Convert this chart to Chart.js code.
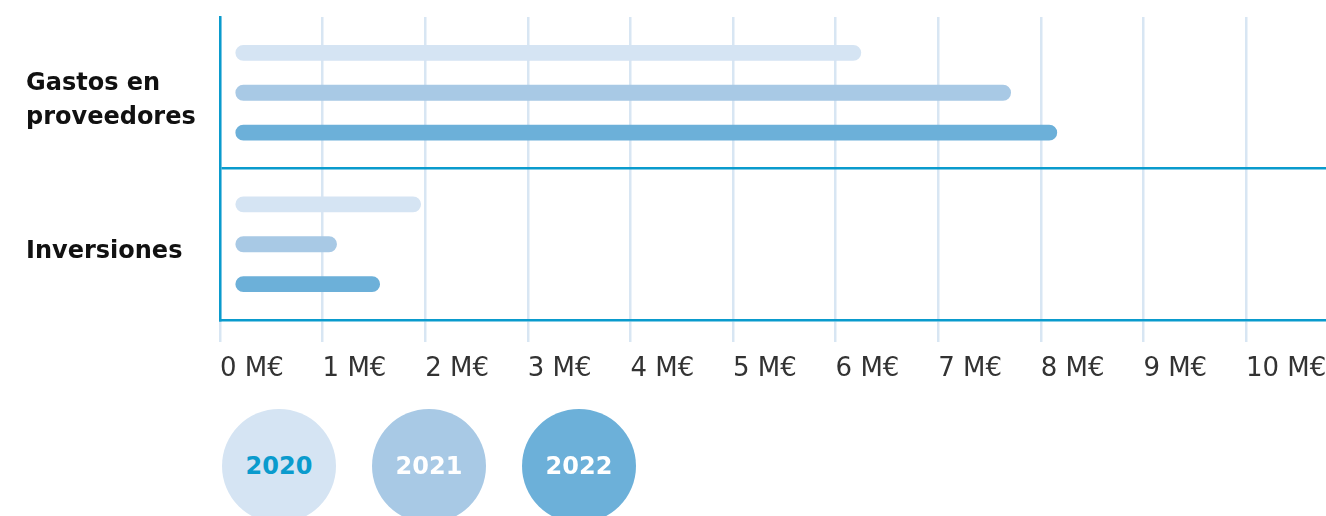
<!DOCTYPE html>
<html>
<head>
<meta charset="utf-8">
<script src="https://cdn.jsdelivr.net/npm/chart.js@4"></script>
<style>
  html, body { margin: 0; padding: 0; background: #fff; }
  #wrap { position: relative; width: 1326px; height: 516px; overflow: hidden; }
  .dot {
    position: absolute; width: 114px; height: 114px; border-radius: 50%;
    display: flex; align-items: center; justify-content: center;
    font-family: "DejaVu Sans"; font-weight: bold; font-size: 24px;
  }
</style>
</head>
<body>
<div id="wrap">
  <canvas id="chart" width="1326" height="516"></canvas>
  <div id="legend"></div>
</div>
<script>
// Data
const categories = [['Gastos en', 'proveedores'], 'Inversiones'];
const years = ['2020', '2021', '2022'];
const values2020 = [6.25, 1.96];
const values2021 = [7.71, 1.14];
const values2022 = [8.16, 1.56];
const tickValues = [0, 1, 2, 3, 4, 5, 6, 7, 8, 9, 10];

// Styles
const BLUE = '#0a9bcd';
const barColors = ['#d5e4f3', '#a8c9e5', '#6cb0d9'];
const legendText = ['#0a9bcd', '#ffffff', '#ffffff'];
const series = [values2020, values2021, values2022];

const ctx = document.getElementById('chart').getContext('2d');

new Chart(ctx, {
    type: 'bar',
    data: {
        labels: categories,
        datasets: years.map((y, i) => ({
            label: y,
            data: series[i],
            backgroundColor: barColors[i],
            borderRadius: 8,
            borderSkipped: false,
            base: 0.15,
            categoryPercentage: 0.79,
            barPercentage: 0.4
        }))
    },
    options: {
        indexAxis: 'y',
        responsive: false,
        animation: false,
        layout: {
            padding: { left: 26, top: 17, right: 0, bottom: 126 }
        },
        scales: {
            x: {
                min: 0,
                max: 10.78,
                afterBuildTicks: scale => {
                    scale.ticks = tickValues.map(v => ({ value: v }));
                },
                afterFit: scale => {
                    scale.height = 70;
                    scale.paddingLeft = 0;
                    scale.paddingRight = 0;
                },
                grid: { color: '#d8e6f3', lineWidth: 2.5, tickLength: 22 },
                border: { color: BLUE, width: 2.5 },
                ticks: {
                    align: 'start',
                    autoSkip: false,
                    maxRotation: 0,
                    color: '#333',
                    padding: 12,
                    font: { family: 'DejaVu Sans', size: 26 },
                    callback: v => v + ' M€'
                }
            },
            y: {
                afterFit: scale => { scale.width = 194; },
                grid: {
                    color: c => c.index === 1 ? BLUE : 'transparent',
                    lineWidth: 2.5,
                    drawTicks: false
                },
                border: { color: BLUE, width: 2.5 },
                ticks: {
                    crossAlign: 'far',
                    color: '#111',
                    padding: 0,
                    labelOffset: 8,
                    font: { family: 'DejaVu Sans', size: 24, weight: 'bold', lineHeight: 1.38 }
                }
            }
        },
        plugins: {
            legend: { display: false },
            tooltip: { enabled: false }
        }
    }
});

// Legend circles
const legend = document.getElementById('legend');
years.forEach((y, i) => {
    const d = document.createElement('div');
    d.className = 'dot';
    d.style.left = (222 + i * 150) + 'px';
    d.style.top = '409px';
    d.style.background = barColors[i];
    d.style.color = legendText[i];
    d.textContent = y;
    legend.appendChild(d);
});
</script>
</body>
</html>
